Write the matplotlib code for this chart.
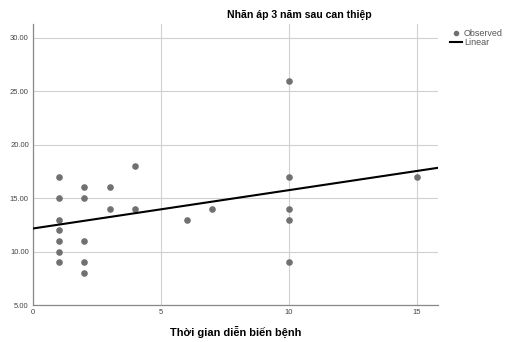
import numpy as np
import matplotlib.pyplot as plt

plt.rcParams['font.family'] = ['Liberation Sans', 'DejaVu Sans']

# thời gian diễn biến (năm) và nhãn áp 3 năm sau can thiệp
x_obs = [1, 1, 1, 1, 1, 1, 1,
         2, 2, 2, 2, 2,
         3, 3,
         4, 4,
         6, 7,
         10, 10, 10, 10, 10,
         15]
y_obs = [17, 15, 13, 12, 11, 10, 9,
         16, 15, 11, 9, 8,
         16, 14,
         18, 14,
         13, 14,
         26, 17, 14, 13, 9,
         17]

x_ticks = [0, 5, 10, 15]
y_ticks = [5, 10, 15, 20, 25, 30]

x = np.array(x_obs, dtype=float)
y = np.array(y_obs, dtype=float)
slope, intercept = np.polyfit(x, y, 1)

fig = plt.figure(figsize=(5.06, 3.42), dpi=100)
ax = fig.add_axes([33 / 506, 1 - 305 / 342, 405 / 506, 281 / 342])

xmin, xmax = 0, 15.82
ymin, ymax = 5, 31.3

ax.grid(True, color='#d0d0d0', linewidth=0.8)
ax.set_axisbelow(True)

pts = ax.scatter(x, y, s=14, color='#707070', zorder=3, label='Observed')
xl = np.array([xmin, xmax])
line, = ax.plot(xl, intercept + slope * xl, color='black', linewidth=1.5,
                zorder=4, label='Linear')

ax.set_xlim(xmin, xmax)
ax.set_ylim(ymin, ymax)
ax.set_xticks(x_ticks)
ax.set_yticks(y_ticks)
ax.set_xticklabels([str(t) for t in x_ticks])
ax.set_yticklabels(['%.2f' % t for t in y_ticks])
ax.tick_params(length=0, labelsize=5.5, colors='#444444', pad=3)

for s in ['top', 'right']:
    ax.spines[s].set_visible(False)
for s in ['left', 'bottom']:
    ax.spines[s].set_color('#888888')
    ax.spines[s].set_linewidth(0.9)

fig.text(299 / 506, 1 - 15 / 342, 'Nhãn áp 3 năm sau can thiệp',
         ha='center', va='center', fontsize=7.6, fontweight='bold')
fig.text(236 / 506, 1 - 332 / 342, 'Thời gian diễn biến bệnh',
         ha='center', va='center', fontsize=7.9, fontweight='bold')

leg = fig.legend(handles=[pts, line], loc='upper left',
                 bbox_to_anchor=(445 / 506, 1 - 24 / 342),
                 frameon=False, fontsize=6.5, handlelength=1.4,
                 handletextpad=0.2, labelspacing=0.1, borderpad=0,
                 markerscale=0.8)
for t in leg.get_texts():
    t.set_color('#555555')

fig.savefig('out.png', dpi=100)
